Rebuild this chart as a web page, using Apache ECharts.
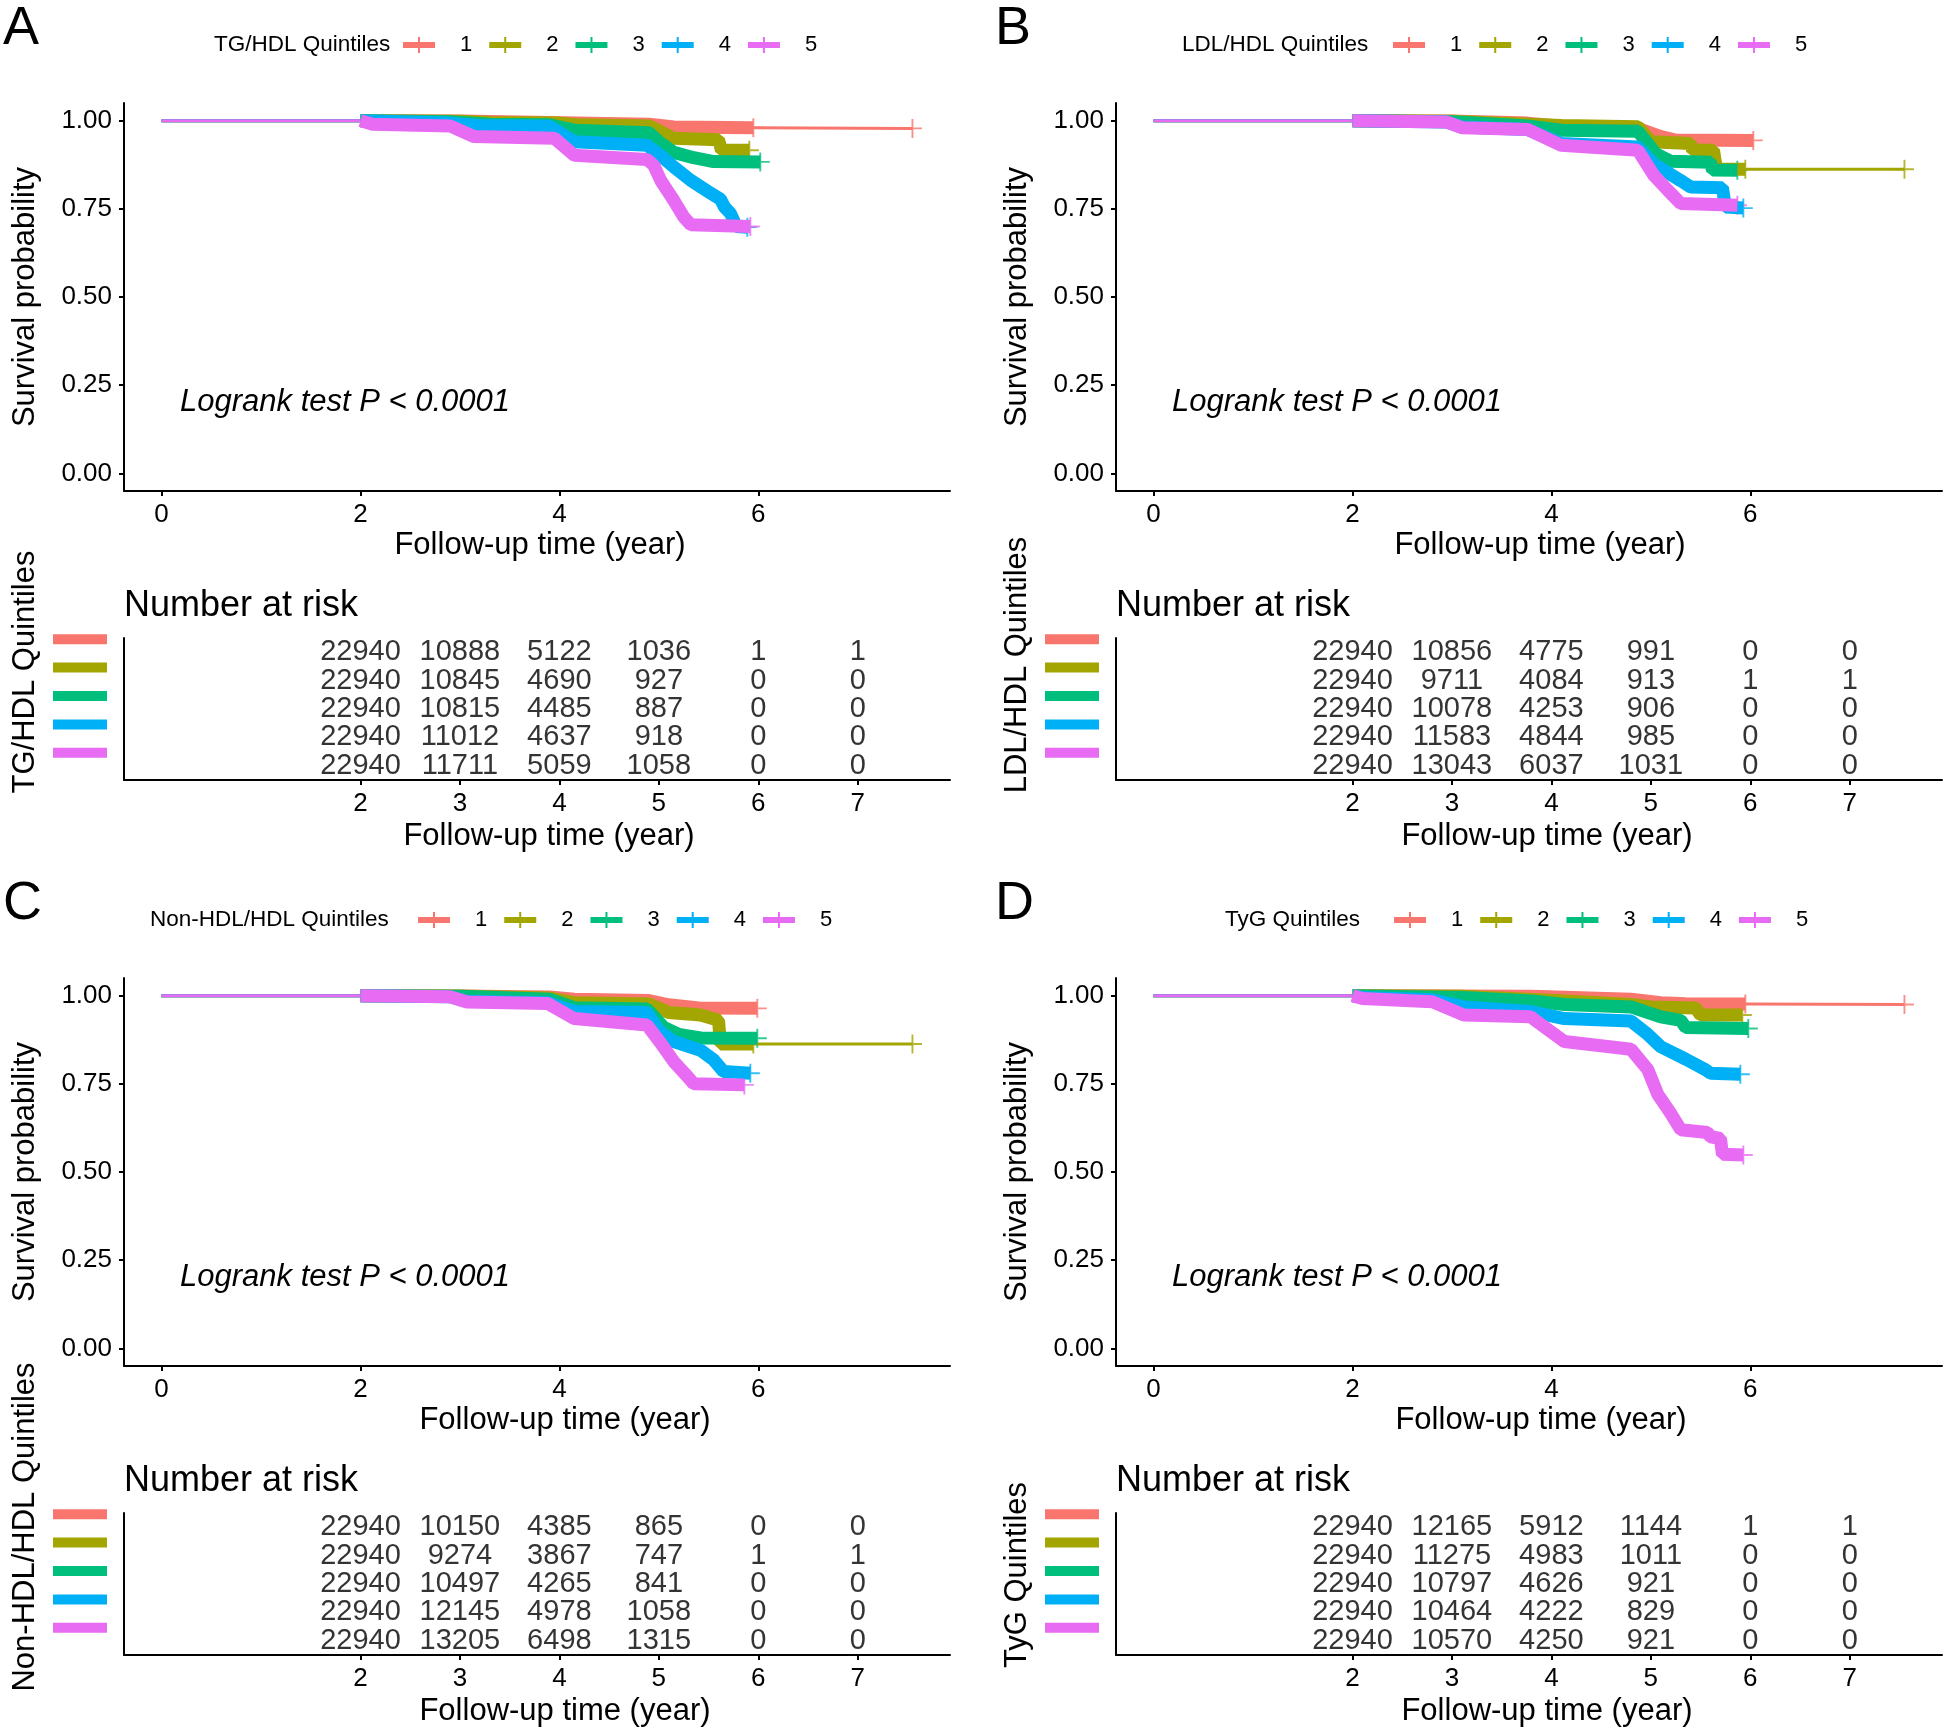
<!DOCTYPE html>
<html><head><meta charset="utf-8">
<script src="https://cdn.jsdelivr.net/npm/echarts@6/dist/echarts.min.js"></script>
<style>html,body{margin:0;padding:0;background:#fff}#c{width:1944px;height:1731px}</style>
</head><body><div id="c"></div><script>
// ---------------- data ----------------
const quintiles = ['1','2','3','4','5'];
const colors = ['#F8766D','#A3A500','#00BF7D','#00B0F6','#E76BF3'];
const riskTimes = [2,3,4,5,6,7];
const plotTicksX = [0,2,4,6];
const tableTicksX = [2,3,4,5,6,7];
const plotTicksY = [0,0.25,0.5,0.75,1];
const panelLetters = ['A','B','C','D'];
const groupNames = ['TG/HDL Quintiles','LDL/HDL Quintiles','Non-HDL/HDL Quintiles','TyG Quintiles'];
const pLabel = 'Logrank test P < 0.0001';
const riskTitle = 'Number at risk';
const xTitle = 'Follow-up time (year)';
const yTitle = 'Survival probability';

// A: TG/HDL  [year, survival probability]
const tgHdl_q1 = [[0,1],[2,1],[3.0,0.999],[3.9,0.995],[4.9,0.99],[5.15,0.982],[5.95,0.98]];
const tgHdl_q2 = [[0,1],[2,1],[3.0,0.998],[3.3,0.995],[4.0,0.993],[4.2,0.988],[4.9,0.985],[5.15,0.95],[5.6,0.946],[5.63,0.916],[5.91,0.916]];
const tgHdl_q3 = [[0,1],[2,1],[2.9,0.997],[3.3,0.99],[3.9,0.988],[4.15,0.973],[4.9,0.966],[5.0,0.94],[5.15,0.91],[5.35,0.895],[5.55,0.884],[6.02,0.883]];
const tgHdl_q4 = [[0,1],[2,1],[2.9,0.993],[3.2,0.986],[3.9,0.984],[4.15,0.94],[4.88,0.93],[5.0,0.905],[5.15,0.869],[5.32,0.831],[5.49,0.80],[5.62,0.777],[5.66,0.755],[5.72,0.737],[5.78,0.70],[5.89,0.698]];
const tgHdl_q5 = [[0,1],[2,1],[2.12,0.99],[2.9,0.985],[3.14,0.955],[3.95,0.95],[4.15,0.902],[4.88,0.89],[4.95,0.873],[5.02,0.83],[5.15,0.774],[5.25,0.727],[5.32,0.705],[5.92,0.70]];
const tgHdl_tail_q1 = [[5.95,0.98],[7.55,0.978]];
const tgHdl_risk_q1 = [22940,10888,5122,1036,1,1];
const tgHdl_risk_q2 = [22940,10845,4690,927,0,0];
const tgHdl_risk_q3 = [22940,10815,4485,887,0,0];
const tgHdl_risk_q4 = [22940,11012,4637,918,0,0];
const tgHdl_risk_q5 = [22940,11711,5059,1058,0,0];

// B: LDL/HDL
const ldlHdl_q1 = [[0,1],[2,1],[3.0,0.999],[3.76,0.993],[4.1,0.984],[4.87,0.978],[5.1,0.955],[5.25,0.945],[6.03,0.944]];
const ldlHdl_q2 = [[0,1],[2,1],[3.0,0.998],[3.76,0.99],[4.1,0.986],[4.87,0.983],[5.0,0.94],[5.4,0.935],[5.42,0.916],[5.63,0.916],[5.66,0.862],[5.95,0.862]];
const ldlHdl_q3 = [[0,1],[2,1],[3.0,0.997],[3.76,0.985],[4.1,0.973],[4.87,0.97],[5.05,0.906],[5.2,0.885],[5.6,0.882],[5.62,0.86],[5.87,0.859]];
const ldlHdl_q4 = [[0,1],[2,1],[2.95,0.996],[3.1,0.982],[3.76,0.975],[4.1,0.935],[4.87,0.925],[5.03,0.877],[5.3,0.83],[5.4,0.812],[5.72,0.81],[5.75,0.755],[5.93,0.752]];
const ldlHdl_q5 = [[0,1],[2,1],[2.95,0.996],[3.1,0.98],[3.76,0.975],[4.1,0.93],[4.87,0.916],[5.03,0.845],[5.17,0.803],[5.27,0.774],[5.3,0.765],[5.87,0.76]];
const ldlHdl_tail_q2 = [[5.95,0.862],[7.55,0.862]];
const ldlHdl_risk_q1 = [22940,10856,4775,991,0,0];
const ldlHdl_risk_q2 = [22940,9711,4084,913,1,1];
const ldlHdl_risk_q3 = [22940,10078,4253,906,0,0];
const ldlHdl_risk_q4 = [22940,11583,4844,985,0,0];
const ldlHdl_risk_q5 = [22940,13043,6037,1031,0,0];

// C: Non-HDL/HDL
const nonHdl_q1 = [[0,1],[2,1],[3.0,0.999],[3.9,0.996],[4.15,0.99],[4.9,0.986],[5.1,0.974],[5.4,0.965],[5.99,0.964]];
const nonHdl_q2 = [[0,1],[2,1],[3.0,0.999],[3.9,0.993],[4.15,0.98],[4.9,0.976],[5.1,0.952],[5.42,0.945],[5.6,0.93],[5.62,0.863],[5.95,0.863]];
const nonHdl_q3 = [[0,1],[2,1],[3.0,0.998],[3.9,0.99],[4.15,0.966],[4.88,0.962],[5.05,0.91],[5.2,0.89],[5.42,0.88],[5.99,0.879]];
const nonHdl_q4 = [[0,1],[2,1],[2.9,0.997],[3.07,0.984],[3.88,0.98],[4.15,0.955],[4.88,0.952],[5.0,0.9],[5.15,0.87],[5.42,0.845],[5.55,0.818],[5.65,0.785],[5.92,0.78]];
const nonHdl_q5 = [[0,1],[2,1],[2.9,0.997],[3.07,0.982],[3.88,0.978],[4.15,0.935],[4.88,0.917],[5.02,0.865],[5.15,0.813],[5.29,0.77],[5.35,0.75],[5.86,0.747]];
const nonHdl_tail_q2 = [[5.95,0.863],[7.55,0.863]];
const nonHdl_risk_q1 = [22940,10150,4385,865,0,0];
const nonHdl_risk_q2 = [22940,9274,3867,747,1,1];
const nonHdl_risk_q3 = [22940,10497,4265,841,0,0];
const nonHdl_risk_q4 = [22940,12145,4978,1058,0,0];
const nonHdl_risk_q5 = [22940,13205,6498,1315,0,0];

// D: TyG
const tyg_q1 = [[0,1],[2,1],[3.8,0.998],[4.8,0.99],[5.1,0.98],[5.35,0.977],[5.95,0.976]];
const tyg_q2 = [[0,1],[2,1],[3.1,0.998],[4.13,0.985],[4.8,0.975],[5.0,0.968],[5.45,0.965],[5.5,0.945],[5.92,0.945]];
const tyg_q3 = [[0,1],[2,1],[3.1,0.995],[3.8,0.985],[4.13,0.975],[4.8,0.968],[5.1,0.94],[5.3,0.93],[5.35,0.91],[5.98,0.907]];
const tyg_q4 = [[0,1],[2,1],[2.1,0.995],[2.8,0.988],[3.12,0.968],[3.79,0.955],[4.13,0.935],[4.8,0.928],[4.97,0.89],[5.1,0.855],[5.35,0.82],[5.55,0.79],[5.6,0.78],[5.9,0.777]];
const tyg_q5 = [[0,1],[2,1],[2.1,0.992],[2.8,0.983],[3.12,0.945],[3.79,0.94],[4.13,0.87],[4.8,0.848],[4.97,0.79],[5.07,0.72],[5.2,0.666],[5.3,0.62],[5.57,0.612],[5.6,0.6],[5.7,0.595],[5.72,0.55],[5.93,0.548]];
const tyg_tail_q1 = [[5.95,0.976],[7.55,0.975]];
const tyg_risk_q1 = [22940,12165,5912,1144,1,1];
const tyg_risk_q2 = [22940,11275,4983,1011,0,0];
const tyg_risk_q3 = [22940,10797,4626,921,0,0];
const tyg_risk_q4 = [22940,10464,4222,829,0,0];
const tyg_risk_q5 = [22940,10570,4250,921,0,0];

// ---------------- layout ----------------
const FONT = "'Liberation Sans', Arial, Helvetica, sans-serif";
const panels = [
  {curves:[tgHdl_q1,tgHdl_q2,tgHdl_q3,tgHdl_q4,tgHdl_q5], tails:[tgHdl_tail_q1,null,null,null,null],
   risk:[tgHdl_risk_q1,tgHdl_risk_q2,tgHdl_risk_q3,tgHdl_risk_q4,tgHdl_risk_q5]},
  {curves:[ldlHdl_q1,ldlHdl_q2,ldlHdl_q3,ldlHdl_q4,ldlHdl_q5], tails:[null,ldlHdl_tail_q2,null,null,null],
   risk:[ldlHdl_risk_q1,ldlHdl_risk_q2,ldlHdl_risk_q3,ldlHdl_risk_q4,ldlHdl_risk_q5]},
  {curves:[nonHdl_q1,nonHdl_q2,nonHdl_q3,nonHdl_q4,nonHdl_q5], tails:[null,nonHdl_tail_q2,null,null,null],
   risk:[nonHdl_risk_q1,nonHdl_risk_q2,nonHdl_risk_q3,nonHdl_risk_q4,nonHdl_risk_q5]},
  {curves:[tyg_q1,tyg_q2,tyg_q3,tyg_q4,tyg_q5], tails:[tyg_tail_q1,null,null,null,null],
   risk:[tyg_risk_q1,tyg_risk_q2,tyg_risk_q3,tyg_risk_q4,tyg_risk_q5]}
];
const offX = [0, 992, 0, 992];
const offY = [0, 0, 875, 875];
const legendTitleX = [214, 190, 150, 233];
const legendLeftX = [403, 401, 418, 402];
const tableNameY = [672, 665, 652, 700];
const plotNameShift = [3, 11, 28, 12];
const tableNameShift = [12, 18, 28, 18];

const XMIN = -0.3775, XMAX = 7.9275;
const crossSym = 'path://M0,9L20,9L20,11L0,11Z M9,0L11,0L11,20L9,20Z';
const legendIcon = 'path://M0,5L32,5L32,11L0,11Z M15,0L17,0L17,16L15,16Z';

const grid = [], xAxis = [], yAxis = [], series = [], title = [], legend = [], graphic = [];
const axisLineStyle = {color:'#000', width:2};

const richStrips = {g:{height:26, lineHeight:26, fontSize:1}};
colors.forEach((c,i)=>{ richStrips['s'+i] = {width:54, height:10, lineHeight:10, fontSize:1, backgroundColor:c}; });

const shiftPad = s => s >= 0 ? [0,0,0,2*s] : [0,-2*s,0,0];

panels.forEach((p, pi) => {
  const ox = offX[pi], oy = offY[pi];
  const gP = 2*pi, gT = 2*pi+1;
  grid.push({left: ox+124, top: oy+103, width: 826, height: 388});
  grid.push({left: ox+124, top: oy+638, width: 826, height: 142});

  xAxis.push({gridIndex: gP, type:'value', min: XMIN, max: XMAX,
    axisLine:{show:true, onZero:false, lineStyle: axisLineStyle},
    axisTick:{show:true, length:5, lineStyle: axisLineStyle, customValues: plotTicksX},
    axisLabel:{customValues: plotTicksX, fontSize:26, color:'#000', margin:11, fontFamily: FONT},
    splitLine:{show:false},
    name: xTitle, nameLocation:'middle', nameGap:39,
    nameTextStyle:{fontSize:31, color:'#000', fontFamily: FONT, padding: shiftPad(plotNameShift[pi])}});
  yAxis.push({gridIndex: gP, type:'value', min:-0.05, max:1.05,
    axisLine:{show:true, onZero:false, lineStyle: axisLineStyle},
    axisTick:{show:true, length:5, lineStyle: axisLineStyle, customValues: plotTicksY},
    axisLabel:{customValues: plotTicksY, formatter: v => Number(v).toFixed(2), fontSize:26, color:'#000', margin:12, fontFamily: FONT},
    splitLine:{show:false},
    name: yTitle, nameLocation:'middle', nameGap:83, nameRotate:90,
    nameTextStyle:{fontSize:31, color:'#000', fontFamily: FONT}});

  xAxis.push({gridIndex: gT, type:'value', min: XMIN, max: XMAX,
    axisLine:{show:true, onZero:false, lineStyle: axisLineStyle},
    axisTick:{show:true, length:5, lineStyle: axisLineStyle, customValues: tableTicksX},
    axisLabel:{customValues: tableTicksX, fontSize:26, color:'#000', margin:11, fontFamily: FONT},
    splitLine:{show:false},
    name: xTitle, nameLocation:'middle', nameGap:41,
    nameTextStyle:{fontSize:31, color:'#000', fontFamily: FONT, padding: shiftPad(tableNameShift[pi])}});
  yAxis.push({gridIndex: gT, type:'category', data: quintiles, inverse:true,
    axisLine:{show:true, onZero:false, lineStyle: axisLineStyle},
    axisTick:{show:false},
    axisLabel:{margin:17, interval:0, showMinLabel:true, showMaxLabel:true, hideOverlap:false,
      formatter:(v,i)=>'{s'+i+'| }\n{g| }', rich: richStrips},
    splitLine:{show:false}});

  // survival curves
  p.curves.forEach((c, k) => {
    const head = c.filter(d => d[0] <= 2);
    const body = c.filter(d => d[0] >= 2);
    const mk = (data, w) => ({type:'line', name: quintiles[k], xAxisIndex:gP, yAxisIndex:gP, data,
      showSymbol:false, symbol:'none', silent:true, lineStyle:{width:w, color:colors[k]}, itemStyle:{color:colors[k]}});
    series.push(mk(head, 3));
    series.push(mk(body, 13));
    const ends = [body[body.length-1]];
    if (p.tails[k]) { series.push(mk(p.tails[k], 3)); ends.push(p.tails[k][p.tails[k].length-1]); }
    series.push({type:'scatter', name: quintiles[k], xAxisIndex:gP, yAxisIndex:gP, data: ends,
      symbol: crossSym, symbolSize: 19, silent:true, itemStyle:{color: colors[k]}});
  });

  // risk table
  p.risk.forEach((r, k) => {
    series.push({type:'scatter', xAxisIndex:gT, yAxisIndex:gT, silent:true,
      data: riskTimes.map((t,j)=>[t, k, r[j]]),
      symbol:'circle', symbolSize:1, itemStyle:{color:'rgba(0,0,0,0)'},
      label:{show:true, position:'inside', formatter: q => String(q.value[2]), fontSize:29, color:'#000', fontFamily: FONT}});
  });

  title.push({text: panelLetters[pi], left: ox+3, top: oy+2, padding:0,
    textStyle:{fontSize:54, fontWeight:'normal', color:'#000', fontFamily: FONT}});
  title.push({text: groupNames[pi], left: ox+legendTitleX[pi], top: oy+33, padding:0,
    textStyle:{fontSize:22.5, fontWeight:'normal', color:'#000', fontFamily: FONT}});
  title.push({text: riskTitle, left: ox+124, top: oy+588, padding:0,
    textStyle:{fontSize:36, fontWeight:'normal', color:'#000', fontFamily: FONT}});
  title.push({text: pLabel, left: ox+180, top: oy+387, padding:0,
    textStyle:{fontSize:31, fontWeight:'normal', fontStyle:'italic', color:'#000', fontFamily: FONT}});

  legend.push({left: ox+legendLeftX[pi], top: oy+34, orient:'horizontal', padding:0,
    itemWidth:32, itemHeight:16, itemGap:17, selectedMode:false,
    textStyle:{fontSize:22, color:'#000', padding:[0,0,0,20], fontFamily: FONT},
    data: quintiles.map(q => ({name:q, icon: legendIcon}))});

  graphic.push({type:'text', x: ox+25, y: oy+tableNameY[pi], rotation: Math.PI/2,
    style:{text: groupNames[pi], fontSize:31, fontFamily: FONT, fill:'#000',
      align:'center', verticalAlign:'middle', textAlign:'center', textVerticalAlign:'middle'}});
});

const chart = echarts.init(document.getElementById('c'), null, {renderer:'canvas'});
chart.setOption({
  animation:false, backgroundColor:'#fff',
  textStyle:{fontFamily: FONT},
  title, legend, grid, xAxis, yAxis, series, graphic
});
</script></body></html>
